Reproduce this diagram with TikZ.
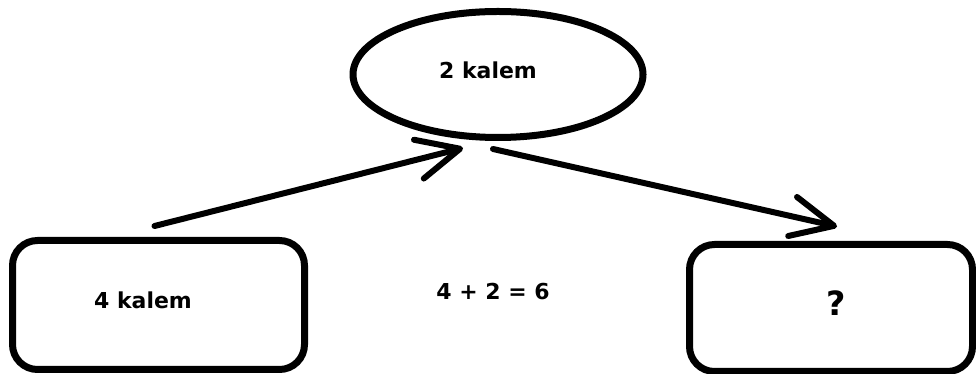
\documentclass[tikz,border=0pt]{standalone}
\usepackage{fontspec}
\setmainfont{DejaVu Sans}
\usepackage{tikz}
\usetikzlibrary{arrows.meta}
\usetikzlibrary{shapes.geometric}

\tikzset{
  txt/.style={font=\fontsize{12.5}{14}\selectfont\bfseries, inner sep=0pt},
  bbox/.style={draw, line width=0.14cm, rounded corners=0.5cm, inner sep=0pt},
  arr/.style={line width=0.12cm, line cap=round,
    -{Straight Barb[length=0.85cm, width=0.8cm, line cap=round, line join=round]}}
}

\begin{document}
\begin{tikzpicture}
			
			\useasboundingbox (0,0) rectangle (19.52,7.48);
			
			% ellipse at the top
			\node[ellipse, draw, line width=0.14cm, minimum width=5.8cm, minimum height=2.52cm, inner sep=0pt] (top) at (9.96,5.99) {};
			\node[txt] (toptxt) at (9.76,6.08) {2 kalem};
			
			% boxes left and right
			\node[bbox, minimum width=5.84cm, minimum height=2.58cm] (left) at (3.17,1.38) {};
			\node[txt] (lefttxt) at (2.86,1.48) {4 kalem};
			\node[bbox, minimum width=5.66cm, minimum height=2.54cm] (right) at (16.62,1.32) {};
			\node[txt, font=\fontsize{19}{22}\selectfont\bfseries] (righttxt) at (16.72,1.42) {?};
			
			% sum in the middle
			\node[txt] (sum) at (9.86,1.64) {4 + 2 = 6};
			
			% arrows
			\draw[arr] ([xshift=-0.08cm,yshift=0.22cm]left.north) -- ([xshift=-0.7cm,yshift=-0.14cm]top.south);
			\draw[arr] ([xshift=-0.1cm,yshift=-0.16cm]top.south) -- ([xshift=0.12cm,yshift=0.29cm]right.north);
			
		\end{tikzpicture}
\end{document}
